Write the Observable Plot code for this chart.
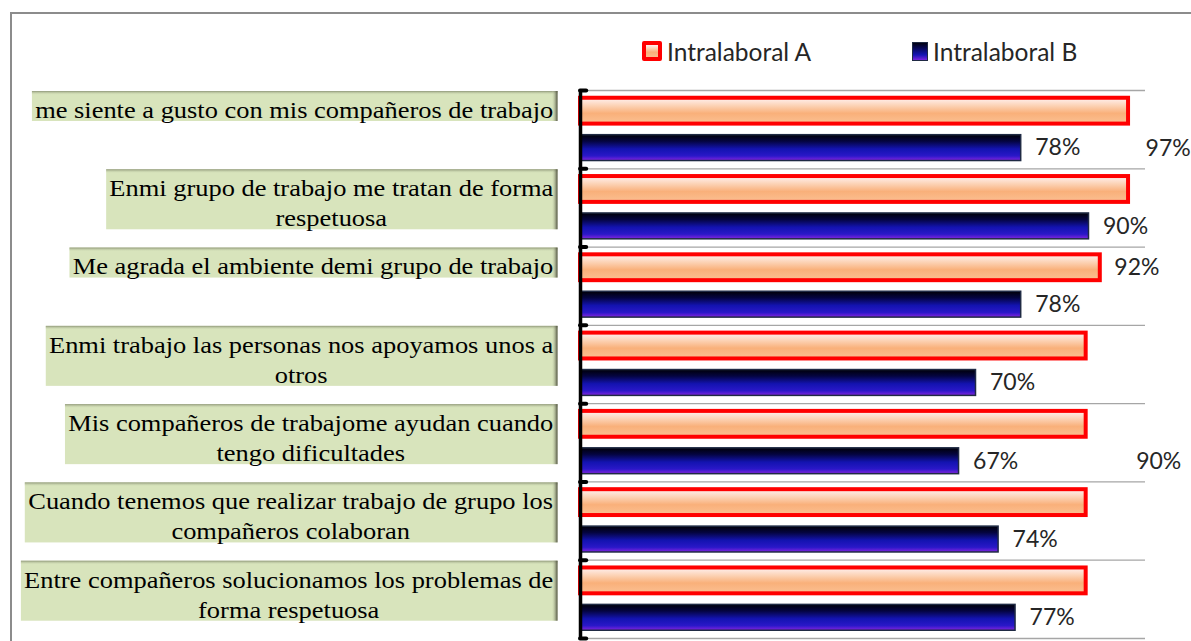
<!DOCTYPE html>
<html><head><meta charset="utf-8">
<script src="https://cdn.jsdelivr.net/npm/d3@7"></script>
<script src="https://cdn.jsdelivr.net/npm/@observablehq/plot@0.6"></script>
<style>
body{margin:0;background:#fff;}
#wrap{position:relative;width:1191px;height:641px;overflow:hidden;background:#fff;}
#border{position:absolute;left:10px;top:12px;width:1200px;height:700px;border-top:2px solid #8c8c8c;border-left:2px solid #8c8c8c;}
#legend{position:absolute;top:0;left:0;width:1191px;height:80px;font-family:Lato;font-size:24.5px;color:#262626;}
.item{position:absolute;top:37px;height:28px;display:flex;align-items:center;white-space:nowrap;}
.sw{margin-right:5px;box-sizing:border-box;}
#chart{position:absolute;top:80px;left:0;}
</style></head>
<body>
<div id="wrap">
  <div id="border"></div>
  <div id="legend"></div>
  <div id="chart"></div>
</div>
<script>
const categories = [
  "me siente a gusto con mis compañeros de trabajo",
  "Enmi grupo de trabajo me tratan de forma\nrespetuosa",
  "Me agrada el ambiente demi grupo de trabajo",
  "Enmi trabajo las personas nos apoyamos unos a\notros",
  "Mis compañeros de trabajome ayudan cuando\ntengo dificultades",
  "Cuando tenemos que realizar trabajo de grupo los\ncompañeros colaboran",
  "Entre compañeros solucionamos los problemas de\nforma respetuosa"
];
const seriesNames = ["Intralaboral A", "Intralaboral B"];
const valuesA = [97, 97, 92, 89.5, 89.5, 89.5, 89.5];
const valuesB = [78, 90, 78, 70, 67, 74, 77];

// series inside each category band
const inner = d3.scaleBand().domain(seriesNames).range([0, 1]).paddingInner(0.3).paddingOuter(0.21);
const rows = categories.flatMap((c, i) => [valuesA[i], valuesB[i]].map((v, k) => {
  const s = seriesNames[k];
  const y1 = i + inner(s);
  return {cat: c, i, series: s, v, y1, y2: y1 + inner.bandwidth(), ym: y1 + inner.bandwidth() / 2};
}));
const rowsA = rows.filter(d => d.series === seriesNames[0]);
const rowsB = rows.filter(d => d.series === seriesNames[1]);
const pct = d => Math.round(d.v) + "%";
const LABEL_FONT = "Lato, sans-serif";
const LABEL_SIZE = 23;

// legend
const legend = document.getElementById("legend");
const legendLeft = [642, 912];
seriesNames.forEach((s, k) => {
  const it = document.createElement("div");
  it.className = "item";
  it.style.left = legendLeft[k] + "px";
  const sw = document.createElement("span");
  sw.className = "sw";
  if (k === 0) {
    sw.style.width = "20px"; sw.style.height = "20px";
    sw.style.background = "linear-gradient(#fff0f0, #fcd2b4 30%, #f9b07a 60%, #fbbd8e)";
    sw.style.border = "4px solid #ff0000";
    sw.style.borderRadius = "2px";
  } else {
    sw.style.width = "16px"; sw.style.height = "19px";
    sw.style.background = "linear-gradient(#000010, #0a0a6e 40%, #1414b4 70%, #7a22de)";
    sw.style.border = "1.5px solid #1f2a44";
  }
  const tx = document.createElement("span");
  tx.textContent = s;
  it.append(sw, tx);
  legend.append(it);
});

const DY = 6;
const plot = Plot.plot({
  width: 1191,
  height: 561,
  marginLeft: 580,
  marginRight: 46,
  marginTop: 10,
  marginBottom: 3,
  x: {domain: [0, 100], axis: null},
  y: {domain: [0, categories.length], reverse: true, axis: null},
  style: {background: "transparent", overflow: "visible"},
  marks: [
    Plot.ruleY(d3.range(categories.length + 1), {x1: 0, x2: 100, stroke: "#a6a6a6", strokeWidth: 1.3}),
    Plot.text(categories, {
      x: 0, y: (d, i) => i, text: d => d,
      textAnchor: "end", lineAnchor: "top", dx: -27, dy: DY,
      fontFamily: "Liberation Serif, serif", fontSize: 23, lineHeight: 30 / 23,
      fill: "#000"
    }),
    Plot.rect(rowsA, {x1: 0, x2: "v", y1: "y1", y2: "y2", fill: "url(#gradA)", stroke: "#ff0000", strokeWidth: 4}),
    Plot.rect(rowsB, {x1: 0, x2: "v", y1: "y1", y2: "y2", fill: "url(#gradB)", stroke: "#1f2a44", strokeWidth: 1.5}),
    Plot.ruleX([0], {y1: 0, y2: categories.length, stroke: "#000", strokeWidth: 3.5}),
    Plot.ruleY(d3.range(categories.length + 1), {x1: 0, x2: 1.1, stroke: "#000", strokeWidth: 4, strokeLinecap: "round"}),
    Plot.text(rowsB, {x: "v", y: "ym", text: pct, textAnchor: "start", dx: 14, fontFamily: LABEL_FONT, fontSize: LABEL_SIZE, fill: "#262626"}),
    // data labels of series A as placed in the original chart
    Plot.text(rowsA.filter(d => d.i === 2), {x: "v", y: "ym", text: pct, textAnchor: "start", dx: 14, fontFamily: LABEL_FONT, fontSize: LABEL_SIZE, fill: "#262626"}),
    Plot.text(rowsA.filter(d => d.i === 0), {x: "v", y: "ym", text: pct, textAnchor: "start", dx: 17, dy: 37, fontFamily: LABEL_FONT, fontSize: LABEL_SIZE, fill: "#262626"}),
    Plot.text(rowsA.filter(d => d.i === 4), {x: "v", y: "ym", text: pct, textAnchor: "start", dx: 50, dy: 37, fontFamily: LABEL_FONT, fontSize: LABEL_SIZE, fill: "#262626"})
  ]
});
document.getElementById("chart").append(plot);

// gradients
const NS = "http://www.w3.org/2000/svg";
const defs = d3.select(plot).insert("defs", ":first-child");
function grad(id, stops, horizontal) {
  const g = defs.append("linearGradient").attr("id", id)
    .attr("x1", 0).attr("y1", 0).attr("x2", horizontal ? 1 : 0).attr("y2", horizontal ? 0 : 1);
  stops.forEach(([o, c, a]) => g.append("stop").attr("offset", o).attr("stop-color", c).attr("stop-opacity", a == null ? 1 : a));
}
grad("gradA", [[0, "#fff2f2"], [0.3, "#fcd3b6"], [0.6, "#f9b07a"], [1, "#fbc092"]]);
grad("gradB", [[0, "#000008"], [0.25, "#040440"], [0.55, "#1313b0"], [0.82, "#2a18c8"], [1, "#8424e0"]]);
grad("shadeR", [[0, "#d8e4bc", 0], [1, "#3e3e30", 0.9]], true);
grad("shadeT", [[0, "#8e9678", 1], [1, "#d8e4bc", 0]]);

// label boxes behind the category texts, text centered in box
const SX = 1.15, PAD = 3, LH = 30;
const allTexts = Array.from(plot.querySelectorAll("text"));
const texts = allTexts.filter(t => categories.some(c => c.replace(/\n/g, "") === t.textContent.replace(/\n/g, "")));
const labelG = texts.length ? texts[0].parentNode : null;
texts.forEach(t => {
  const bb = t.getBBox();
  const m = /translate\(([-\d.e]+)[,\s]+([-\d.e]+)\)/.exec(t.getAttribute("transform") || "");
  const x0 = m ? +m[1] : 0, y0 = m ? +m[2] : 0;
  const w = bb.width * SX;
  const n = t.querySelectorAll("tspan").length || 1;
  t.setAttribute("text-anchor", "middle");
  t.style.textAnchor = "middle";
  t.setAttribute("transform", `translate(${x0 - w / 2},${y0}) scale(${SX},1)`);
  const bx = x0 - w - PAD, by = y0 - DY + 0.5, bw = w + 2 * PAD + 1, bh = n * LH;
  const mk = (x, y, wd, ht, fill) => {
    const r = document.createElementNS(NS, "rect");
    r.setAttribute("x", x); r.setAttribute("y", y); r.setAttribute("width", wd); r.setAttribute("height", ht);
    r.setAttribute("fill", fill); r.setAttribute("stroke", "none");
    labelG.insertBefore(r, labelG.firstChild);
  };
  mk(bx + bw - 6, by, 6, bh, "url(#shadeR)");
  mk(bx, by, bw, 4, "url(#shadeT)");
  mk(bx, by, bw, bh, "#d8e4bc");
});
</script>
</body></html>
